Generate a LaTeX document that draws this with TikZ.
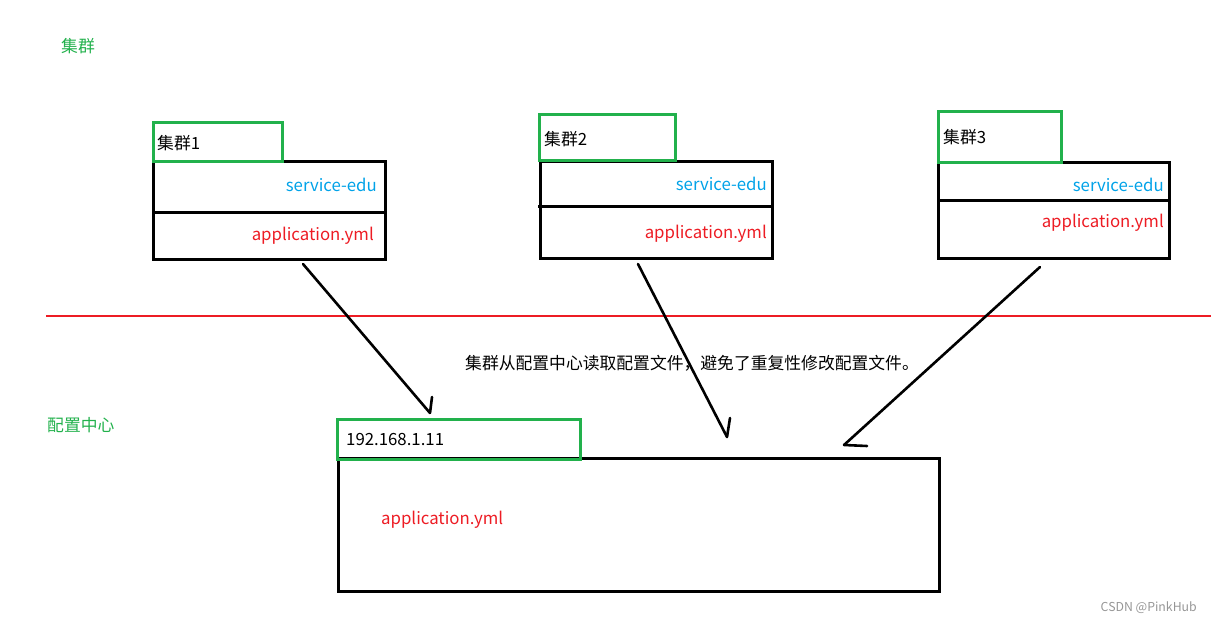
\documentclass[tikz,border=0pt]{standalone}
\usepackage{fontspec}
\setmainfont{Noto Sans CJK SC}
\definecolor{pgreen}{RGB}{34,177,76}
\definecolor{pred}{RGB}{237,28,36}
\definecolor{pblue}{RGB}{0,162,232}
\definecolor{wm}{RGB}{150,150,150}
\begin{document}
\begin{tikzpicture}[x=1pt,y=-1pt,
  txt/.style={font=\fontsize{16.8}{20}\selectfont, inner sep=0pt},
  gbox/.style={draw=pgreen, line width=3pt},
  bbox/.style={draw=black, line width=3pt},
  conn/.style={draw=black, line width=2.6pt, line cap=round},
  tick/.style={draw=black, line width=2.6pt, line cap=round}]
\useasboundingbox (0,0) rectangle (1211,623);
% titles
\node[txt, text=pgreen, anchor=west] (t1) at (61,46) {集群};
\node[txt, text=pgreen, anchor=west] (t2) at (47,425) {配置中心};
% red separator
\draw[draw=pred, line width=2.8pt] (46,316) -- (1211,316);
% cluster 1
\draw[bbox] (153,162) rectangle (385,259);
\draw[bbox] (153,213) -- (385,213);
\draw[gbox] (153,123) rectangle (282,162);
\node[txt, anchor=west] (c1) at (157,143) {集群1};
\node[txt, text=pblue, anchor=east] (s1) at (377,185) {service-edu};
\node[txt, text=pred, anchor=east] (a1) at (374,236) {application.yml};
% cluster 2
\draw[bbox] (540,162) rectangle (772,258);
\draw[bbox] (538,207) -- (772,207);
\draw[gbox] (539,115) rectangle (675,161);
\node[txt, anchor=west] (c2) at (544,139) {集群2};
\node[txt, text=pblue, anchor=east] (s2) at (767,184) {service-edu};
\node[txt, text=pred, anchor=east] (a2) at (767,234) {application.yml};
% cluster 3
\draw[bbox] (938,163) rectangle (1169,258);
\draw[bbox] (938,201) -- (1169,201);
\draw[gbox] (938,112) rectangle (1061,163);
\node[txt, anchor=west] (c3) at (943,137) {集群3};
\node[txt, text=pblue, anchor=east] (s3) at (1164,185) {service-edu};
\node[txt, text=pred, anchor=east] (a3) at (1164,223) {application.yml};
% config center
\draw[bbox] (338,458) rectangle (939,591);
\draw[gbox] (337,419) rectangle (580,459);
\node[txt, anchor=west] (ip) at (346,440) {192.168.1.11};
\node[txt, text=pred, anchor=west] (ac) at (381,520) {application.yml};
% note
\node[txt, anchor=west] (note) at (465,363) {集群从配置中心读取配置文件，避免了重复性修改配置文件。};
% connectors
\coordinate (p1s) at (303,264);
\coordinate (p1e) at (430,413);
\coordinate (p2s) at (638,264);
\coordinate (p2e) at (727,437);
\coordinate (p3s) at (1040,267);
\coordinate (p3e) at (844,445);
\draw[conn] (p1s) -- (p1e);
\draw[tick] (p1e) -- (432,397);
\draw[conn] (p2s) -- (p2e);
\draw[tick] (p2e) -- (730,418);
\draw[conn] (p3s) -- (p3e);
\draw[tick] (p3e) -- (867,446);
% watermark
\node[font=\fontsize{12.3}{14}\selectfont, text=wm, inner sep=0pt, anchor=east] (wmk) at (1197,608) {CSDN @PinkHub};
\end{tikzpicture}
\end{document}
